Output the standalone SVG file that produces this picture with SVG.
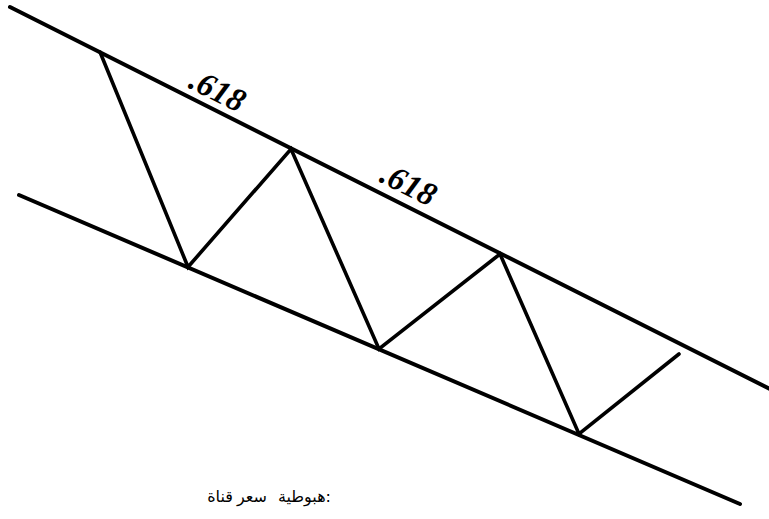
<svg xmlns="http://www.w3.org/2000/svg" width="769" height="519" viewBox="0 0 769 519">
<style>
.ln{stroke:#000;stroke-width:4;stroke-linecap:round;stroke-linejoin:round;fill:none}
.zz{stroke:#000;stroke-width:3.6;stroke-linecap:round;stroke-linejoin:miter;fill:none}
.fib{font-family:"Liberation Serif",serif;font-weight:bold;font-style:italic;font-size:33px;fill:#000}
.cap{font-family:"DejaVu Sans",sans-serif;font-size:16px;fill:#000}
</style>
<rect width="769" height="519" fill="#fff"/>
<g id="connectors">
<line class="ln" x1="10" y1="7" x2="770" y2="389"/>
<line class="ln" x1="19" y1="195" x2="740" y2="504"/>
<polyline class="zz" points="100,52 188,267 291,149 379,349 500,254 579,434 679,354"/>
</g>
<g id="label1"><text class="fib" transform="translate(187,87) rotate(26.8)">.618</text></g>
<g id="label2"><text class="fib" transform="translate(378,181) rotate(26.8)">.618</text></g>
<g id="caption">
<text class="cap" x="220" y="502" text-anchor="middle">قناة</text>
<text class="cap" x="252" y="502" text-anchor="middle">سعر</text>
<text class="cap" x="331" y="502" text-anchor="end">هبوطية:</text>
</g>
</svg>
